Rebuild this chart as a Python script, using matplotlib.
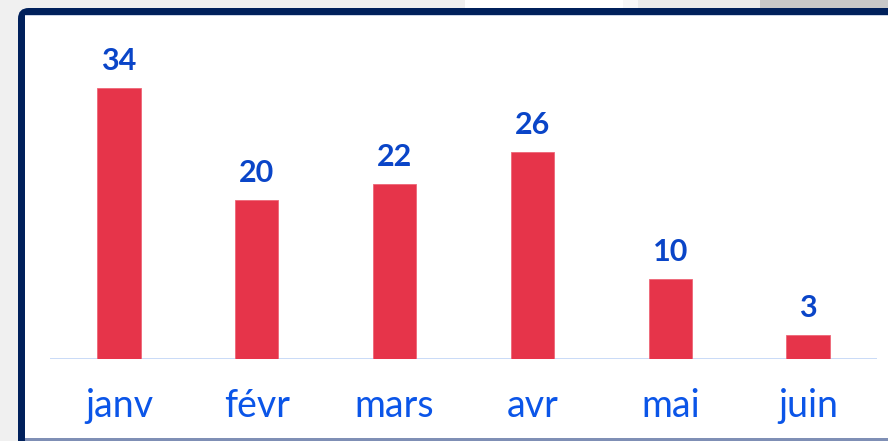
import matplotlib
matplotlib.use('Agg')
import matplotlib.pyplot as plt
from matplotlib.patches import Rectangle, FancyBboxPatch

# data
months = ['janv', 'févr', 'mars', 'avr', 'mai', 'juin']
values = [34, 20, 22, 26, 10, 3]

W, H = 888, 441
BAR_COLOR = '#e6344a'
VALUE_COLOR = '#0a45c8'
LABEL_COLOR = '#0b55e8'
NAVY = '#00205b'

plt.rcParams['font.family'] = ['Lato', 'DejaVu Sans']

fig = plt.figure(figsize=(W / 100, H / 100), dpi=100, facecolor='#f0f0f0')


def box(x0, y0, x1, y1, **kw):
    """Rectangle in top-down pixel coordinates, added to the figure."""
    r = Rectangle((x0 / W, 1 - y1 / H), (x1 - x0) / W, (y1 - y0) / H,
                  transform=fig.transFigure, linewidth=0, zorder=0, **kw)
    fig.add_artist(r)
    return r


# background strip at the top
box(465, 0, 623, 8, facecolor='#ffffff')
box(623, 0, 638, 8, facecolor='#f7f7f7')
box(638, 0, 760, 8, facecolor='#ebebeb')
box(760, 0, 888, 8, facecolor='#c8c8c8')

# panel with navy frame
frame = FancyBboxPatch((18 / W, -0.05), 1.0, 1 - 8 / H + 0.05,
                       boxstyle='round,pad=0,rounding_size=0.012',
                       transform=fig.transFigure, facecolor=NAVY,
                       linewidth=0, mutation_aspect=W / H, zorder=0)
fig.add_artist(frame)
box(25, 15, 900, 445, facecolor='#ffffff')
box(25, 15, 900, 16, facecolor='#c9d3e6')
box(25, 438, 900, 441, facecolor='#7f8fb5')

# chart axes: baseline at y=359px, bars spaced ~138px
ax = fig.add_axes([50 / W, (H - 359) / H, 827 / W, (359 - 20) / H])
ax.set_zorder(5)
ax.set_facecolor('none')
ax.set_xlim(-0.5, 5.5)
ax.set_ylim(0, (359 - 20) / 7.97)

x = range(len(months))
ax.bar(x, values, width=0.315, color=BAR_COLOR, edgecolor='#ee6677',
       linewidth=0.6, zorder=2)
ax.axhline(0, color='#bfd4f6', linewidth=1.9, zorder=1)

for i, v in zip(x, values):
    ax.annotate(str(v), xy=(i, v), xytext=(0, 18), textcoords='offset pixels',
                ha='center', va='baseline', fontsize=22, fontweight='bold',
                color=VALUE_COLOR)
    ax.annotate(months[i], xy=(i, 0), xytext=(0, -58),
                textcoords='offset pixels', ha='center', va='baseline',
                fontsize=27, color=LABEL_COLOR, annotation_clip=False)

for s in ax.spines.values():
    s.set_visible(False)
ax.set_xticks([])
ax.set_yticks([])

fig.savefig('out.png', dpi=100, facecolor=fig.get_facecolor())
